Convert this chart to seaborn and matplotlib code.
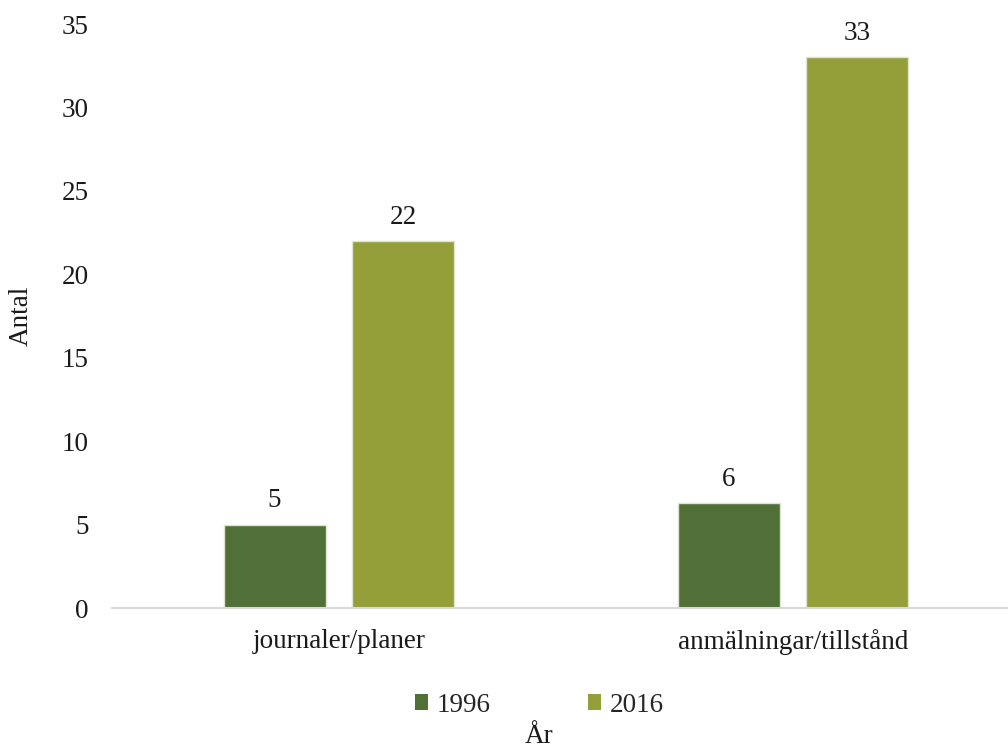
import matplotlib
matplotlib.use("Agg")
import matplotlib.pyplot as plt
import seaborn as sns
import pandas as pd
from matplotlib.patches import Patch

categories = ["journaler/planer", "anmälningar/tillstånd"]
years = ["1996", "2016"]
values_1996 = [5, 6.3]
values_2016 = [22, 33]
label_1996 = ["5", "6"]
label_2016 = ["22", "33"]
yticks = [0, 5, 10, 15, 20, 25, 30, 35]

colors = {"1996": "#507037", "2016": "#949F39"}

df = pd.DataFrame({
    "Kategori": categories * 2,
    "År": ["1996"] * 2 + ["2016"] * 2,
    "Antal": values_1996 + values_2016,
})

sns.set_theme(style="white")
plt.rcParams["font.family"] = ["Liberation Serif", "DejaVu Serif"]
FS = 19.5
TC = "#1a1a1a"

fig = plt.figure(figsize=(10.08, 7.51), dpi=100)
ax = fig.add_axes([112 / 1008, (751 - 608) / 751, 908 / 1008, 584 / 751])

sns.barplot(data=df, x="Kategori", y="Antal", hue="År", order=categories,
            hue_order=years, palette=colors, saturation=1, width=0.568, gap=0.209,
            edgecolor="#dfe3d0", linewidth=1, ax=ax, legend=False)

labels = [label_1996, label_2016]
for cont, labs in zip(ax.containers, labels):
    ax.bar_label(cont, labels=labs, padding=8, fontsize=FS, color=TC)

ax.set_xlim(-0.5, 1.5)
ax.set_ylim(0, 35)
ax.set_yticks(yticks)
ax.set_yticklabels([str(t) for t in yticks], fontsize=FS, color=TC)
ax.tick_params(axis="y", length=0, pad=17)
ax.tick_params(axis="x", length=0, pad=15, labelsize=FS, labelcolor=TC)
ax.set_xlabel("")
ax.set_ylabel("Antal", fontsize=FS, color=TC, labelpad=20)
for s in ["top", "right", "left"]:
    ax.spines[s].set_visible(False)
ax.spines["bottom"].set_color("#d9d9d9")
ax.spines["bottom"].set_linewidth(1.5)
ax.grid(False)

handles = [Patch(facecolor=colors[y], edgecolor="none", label=y) for y in years]
fig.legend(handles=handles, loc="center", bbox_to_anchor=(539 / 1008, 1 - 705 / 751),
           ncol=2, frameon=False, fontsize=FS, handlelength=0.5, handleheight=0.5,
           handletextpad=0.3, columnspacing=3.6)
fig.text(539 / 1008, 2 / 751, "År", ha="center", va="bottom", fontsize=FS,
         color=TC)

fig.savefig("out.png", dpi=100)
